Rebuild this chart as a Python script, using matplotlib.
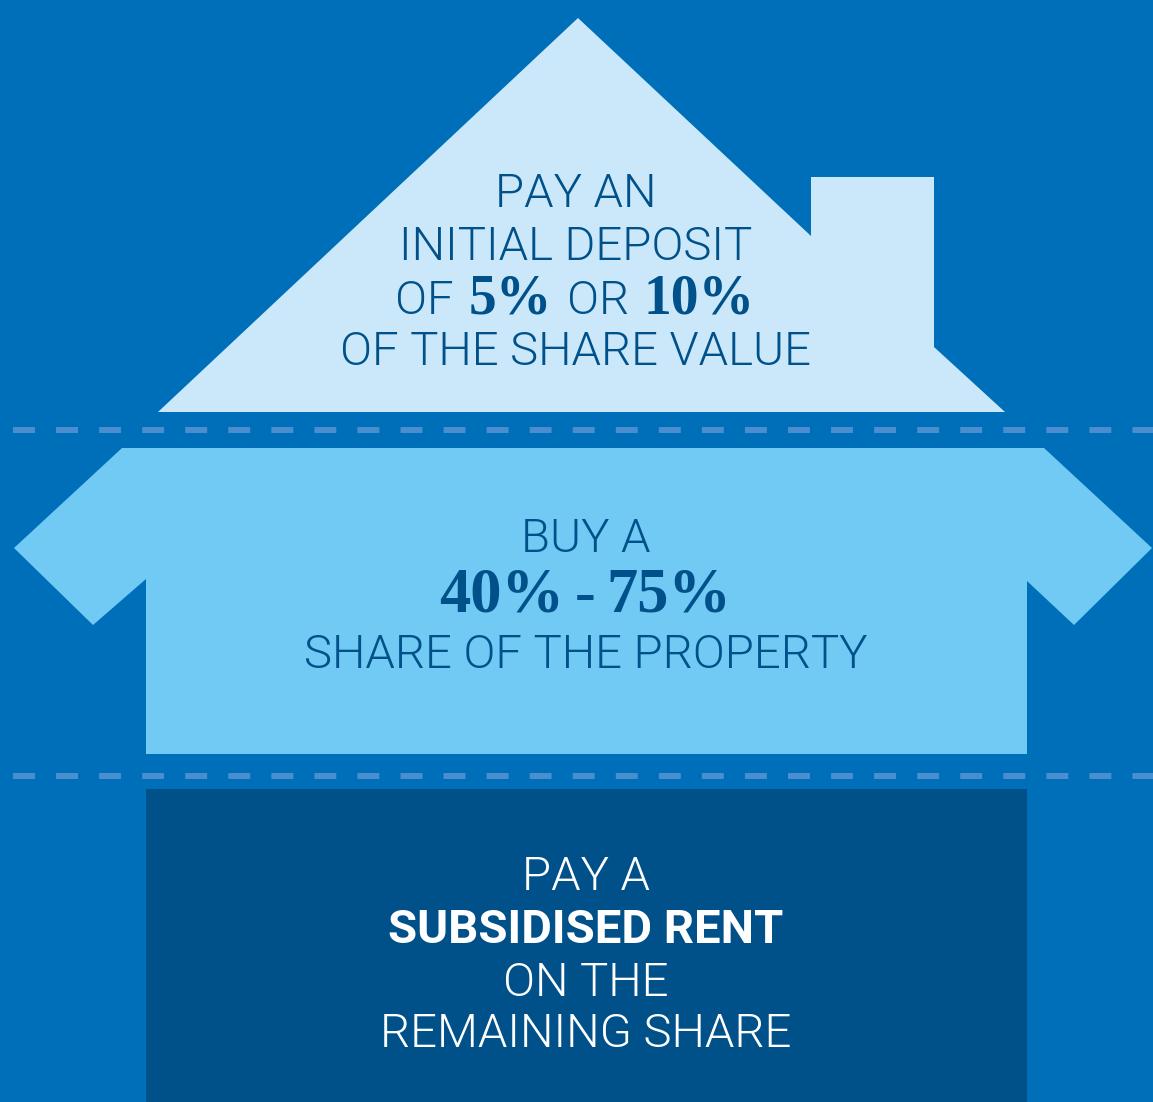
import matplotlib
matplotlib.use("Agg")
import matplotlib.pyplot as plt
from matplotlib import font_manager
from matplotlib.patches import Polygon, Rectangle

# text of the three house sections
roof_text = ["PAY AN", "INITIAL DEPOSIT", "OF THE SHARE VALUE"]
deposit_options = ["5%", "10%"]
share_text = ["BUY A", "SHARE OF THE PROPERTY"]
share_range = ["40%", "75%"]
rent_text = ["PAY A", "SUBSIDISED RENT", "ON THE", "REMAINING SHARE"]

bg = "#006fb9"
roof_col = "#cae8f9"
mid_col = "#71caf4"
base_col = "#00508a"
dash_col = "#4a8ecf"
ink = "#00508a"

plt.rcParams["lines.scale_dashes"] = False

# Roboto Light is not reachable through weight="light", so find the file
light_file = None
for f in font_manager.findSystemFonts():
    if f.split("/")[-1].lower() in ("roboto-light.ttf", "roboto-light.otf"):
        light_file = f

W, H = 1153, 1102
fig = plt.figure(figsize=(W / 100, H / 100), dpi=100, facecolor=bg)
ax = fig.add_axes([0, 0, 1, 1])
ax.set_xlim(0, W)
ax.set_ylim(H, 0)
ax.axis("off")

# roof with chimney
roof = [(158, 412), (578, 18), (811, 236), (811, 177), (934, 177),
        (934, 347), (1005, 412)]
ax.add_patch(Polygon(roof, closed=True, color=roof_col, lw=0))

# middle section with arms
mid = [(122, 448), (1044, 448), (1152, 548), (1074, 625), (1027, 581),
       (1027, 754), (146, 754), (146, 579), (93, 625), (14, 548)]
ax.add_patch(Polygon(mid, closed=True, color=mid_col, lw=0))

# base
ax.add_patch(Rectangle((146, 789), 881, H - 789, color=base_col, lw=0))

# dashed separators
for y in [430, 776]:
    ax.plot([13, W], [y, y], color=dash_col, lw=4.3, dashes=(15.8, 15.2),
            solid_capstyle="butt", dash_capstyle="butt")

if light_file:
    sans = dict(fontproperties=font_manager.FontProperties(fname=light_file, size=34))
else:
    sans = dict(family="Roboto", weight="normal", size=33)
sans_bold = dict(family="Roboto", weight="bold", size=34)
serif_small = dict(family="Liberation Serif", weight="bold", size=40)
serif_big = dict(family="Liberation Serif", weight="bold", size=45)

renderer = fig.canvas.get_renderer()


def line(pieces, cx, y, color, gap=17):
    # pieces: list of (string, font dict); drawn side by side, centred on cx
    texts = [ax.text(0, y, s, va="baseline", ha="left", color=color, **f)
             for s, f in pieces]
    widths = [t.get_window_extent(renderer).width for t in texts]
    total = sum(widths) + gap * (len(texts) - 1)
    x = cx - total / 2
    for t, w in zip(texts, widths):
        t.set_x(x)
        x += w + gap


line([(roof_text[0], sans)], 576, 207, ink)
line([(roof_text[1], sans)], 576, 260, ink)
line([("OF", sans), (deposit_options[0], serif_small), ("OR", sans),
      (deposit_options[1], serif_small)], 575, 314, ink, gap=15)
line([(roof_text[2], sans)], 576, 365, ink)

line([(share_text[0], sans)], 586, 552, ink)
line([(share_range[0], serif_big), ("-", serif_big), (share_range[1], serif_big)],
     585, 612, ink, gap=11)
line([(share_text[1], sans)], 586, 668, ink)

line([(rent_text[0], sans)], 586, 890, "white")
line([(rent_text[1], sans_bold)], 586, 943, "white")
line([(rent_text[2], sans)], 586, 996, "white")
line([(rent_text[3], sans)], 586, 1047, "white")

fig.savefig("out.png", dpi=100, facecolor=bg)
